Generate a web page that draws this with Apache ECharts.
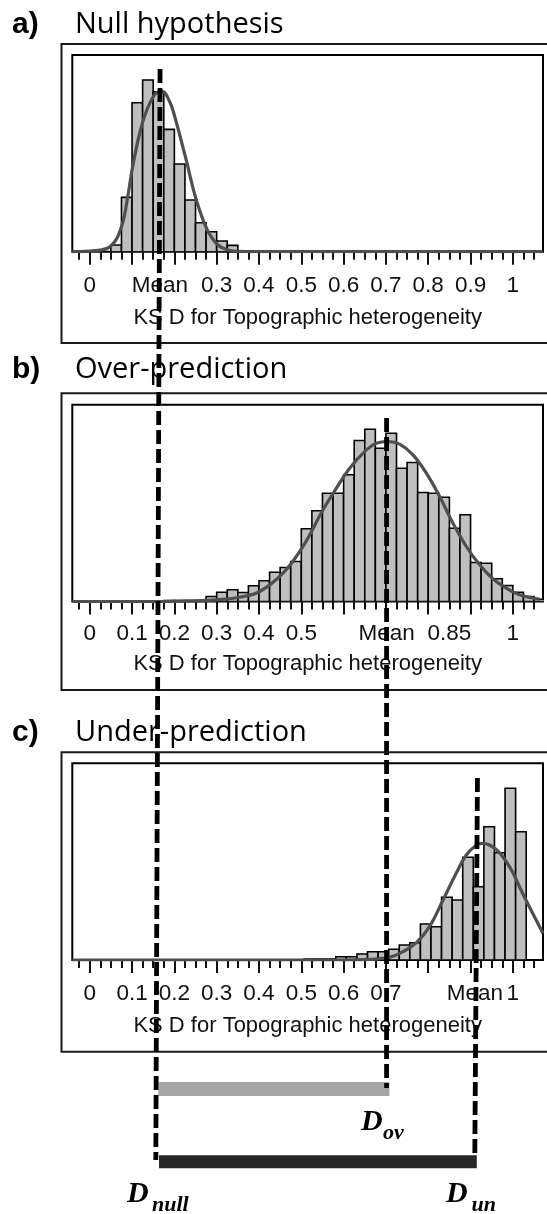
<!DOCTYPE html>
<html><head><meta charset="utf-8">
<script src="https://cdn.jsdelivr.net/npm/echarts@6/dist/echarts.min.js"></script>
<style>html,body{margin:0;padding:0;background:#fff}#c{width:547px;height:1214px}</style>
</head><body><div id="c"></div>
<script>
// ================= DATA =================
const binWidth = 0.025;

// a) Null hypothesis histogram (bin left edges, frequency)
const nullBinStarts = [0.05,0.075,0.1,0.125,0.15,0.175,0.2,0.225,0.25,0.275,0.3,0.325,0.35,0.375,0.4,0.425];
const nullFreq      = [6.7,54.3,149,171.7,160,122.3,87.7,51.7,29,20,10.7,6.3,1,1,1,1];
const nullCurveX = [-0.041,0.012,0.05,0.075,0.091,0.1,0.124,0.15,0.17,0.189,0.201,0.226,0.252,0.278,0.303,0.327,0.35,0.45,1.071];
const nullCurveY = [0,1,5.7,25,58,81.7,128,155,160.7,150,135,95,51.7,21.7,6.7,1.7,0.3,0,0];

// b) Over-prediction histogram
const overBinStarts = [0.175,0.2,0.225,0.25,0.275,0.3,0.325,0.35,0.375,0.4,0.425,0.45,0.475,0.5,0.525,0.55,0.575,0.6,0.625,0.65,0.675,0.7,0.725,0.75,0.775,0.8,0.825,0.85,0.875,0.9,0.925,0.95,0.975,1.0,1.025,1.05];
const overFreq      = [1,1,1,1,5,9.3,11.7,9,15.7,20.7,29.3,34,40,72.7,90.7,108.3,108.3,126.7,161,172.3,153.3,168.3,133.3,139,109,108.3,104.3,73.3,86.7,39,38.3,22.7,16,9.3,5,2.3];
const overCurveX = [-0.041,0.15,0.252,0.2995,0.3545,0.4018,0.4568,0.504,0.5513,0.5829,0.6143,0.6538,0.6774,0.7048,0.7324,0.7638,0.7955,0.8269,0.8583,0.8899,0.9214,0.9528,0.9844,1.0158,1.063];
const overCurveY = [0,0,0.7,1.7,4.3,10,28.3,55,91.7,113.3,133.3,151.7,158.3,160,157.3,146.7,128.3,105,78.3,55,36.7,22.7,13.3,6.7,2.3];

// c) Under-prediction histogram (bin edges as placed in the picture)
const underBinStarts = [0.5065,0.5315,0.5565,0.5815,0.6065,0.6315,0.6565,0.6815,0.7065,0.7315,0.7565,0.7815,0.8065,0.8315,0.8565,0.8815,0.9065,0.9315,0.9565,0.9815,1.0065];
const underFreq      = [1,1,1,3.3,3.3,6,8.3,8.3,10.7,15,17.3,36,33.3,62.7,60,102.7,73.3,133.3,107.3,171.7,128.3];
const underCurveX = [-0.041,0.6,0.661,0.709,0.74,0.772,0.803,0.835,0.866,0.89,0.914,0.928,0.96,0.992,1.023,1.055,1.071];
const underCurveY = [0,0,0.7,2.7,8.3,17.3,33.3,60,86.7,105,115,116.7,110.7,93.3,66.7,40,26.7];

// means (D values)
const meanNull = 0.166, meanOver = 0.7015, meanUnder = 0.91;

// tick labels
const labelPosA  = [0, meanNull, 0.3, 0.4, 0.5, 0.6, 0.7, 0.8, 0.9, 1];
const labelTextA = ['0','Mean','0.3','0.4','0.5','0.6','0.7','0.8','0.9','1'];
const labelPosB  = [0, 0.1, 0.2, 0.3, 0.4, 0.5, meanOver, 0.85, 1];
const labelTextB = ['0','0.1','0.2','0.3','0.4','0.5','Mean','0.85','1'];
const labelPosC  = [0, 0.1, 0.2, 0.3, 0.4, 0.5, 0.6, 0.7, meanUnder, 1];
const labelTextC = ['0','0.1','0.2','0.3','0.4','0.5','0.6','0.7','Mean','1'];
const majorTicks = [0,0.1,0.2,0.3,0.4,0.5,0.6,0.7,0.8,0.9,1];
const axisTitle = 'KS D for Topographic heterogeneity';
const panelTitles = [['a)','Null hypothesis'],['b)','Over-prediction'],['c)','Under-prediction']];

// connector lines (x in data units, y in page rows of the overlay axis)
const nullLine  = [[0.1662, 69], [0.1562, 1160]];
const overLine  = [[meanOver, 418], [meanOver, 1088]];
const underLine = [[0.9163, 778], [0.910, 1157]];
const ovBar = [[0.1621, 1089], [0.7081, 1089]];
const unBar = [[0.1638, 1161.7], [0.9147, 1161.7]];

// ================= LAYOUT =================
const X_MIN = -0.0412, X_MAX = 1.0712, Y_MAX = 196.7;
const GL = 72.3, GR = 4;
const panels = [
  {top: 55,    box: [61.5, 44, 343],   title: 24.5, margin: 22.5, gap: 55, pos: labelPosA, txt: labelTextA,
   starts: nullBinStarts, freq: nullFreq, cx: nullCurveX, cy: nullCurveY},
  {top: 404.8, box: [61.5, 393.3, 690], title: 370,  margin: 20.5, gap: 51, pos: labelPosB, txt: labelTextB,
   starts: overBinStarts, freq: overFreq, cx: overCurveX, cy: overCurveY},
  {top: 763.3, box: [61.5, 752.3, 1051.7], title: 733, margin: 22, gap: 54.5, pos: labelPosC, txt: labelTextC,
   starts: underBinStarts, freq: underFreq, cx: underCurveX, cy: underCurveY}
];
const minorTicks = [];
for (let k = -1; k <= 42; k++) minorTicks.push(Math.round(k * 25) / 1000);

const grids = [], xAxes = [], yAxes = [], series = [], graphics = [];
panels.forEach((p, i) => {
  grids.push({left: GL, right: GR, top: p.top, height: Y_MAX, show: true, borderColor: '#000', borderWidth: 2});
  xAxes.push({
    gridIndex: i, type: 'value', min: X_MIN, max: X_MAX, position: 'bottom',
    axisLine: {show: false}, splitLine: {show: false},
    axisTick: {show: true, customValues: majorTicks, length: 13, lineStyle: {color: '#111', width: 2}},
    axisLabel: {show: true, customValues: p.pos, margin: p.margin, color: '#111',
      fontFamily: 'Liberation Sans', fontSize: 22.5,
      formatter: (v) => { let bi = 0, bd = 1e9; p.pos.forEach((q, j) => { const d = Math.abs(q - v); if (d < bd) { bd = d; bi = j; } }); return p.txt[bi]; }},
    name: axisTitle, nameLocation: 'middle', nameGap: p.gap,
    nameTextStyle: {fontFamily: 'Liberation Sans', fontSize: 22, color: '#111'}
  });
  xAxes.push({
    gridIndex: i, type: 'value', min: X_MIN, max: X_MAX, position: 'bottom', offset: 0,
    axisLine: {show: false}, splitLine: {show: false}, axisLabel: {show: false},
    axisTick: {show: true, customValues: minorTicks, length: 8, lineStyle: {color: '#111', width: 2}}
  });
  yAxes.push({gridIndex: i, type: 'value', min: 0, max: Y_MAX, show: false});
  series.push({
    type: 'custom', xAxisIndex: 2 * i, yAxisIndex: i, clip: true, z: 3,
    data: p.starts.map((s, j) => [s, p.freq[j]]),
    renderItem: (params, api) => {
      const x0 = api.value(0), h = api.value(1);
      const a = api.coord([x0, 0]), b = api.coord([x0 + binWidth, h]);
      return {type: 'rect', shape: {x: a[0], y: b[1], width: b[0] - a[0], height: a[1] - b[1]},
        style: {fill: '#bfbfbf', stroke: '#000', lineWidth: 1.6}};
    }
  });
  series.push({
    type: 'line', xAxisIndex: 2 * i, yAxisIndex: i, smooth: 0.4, symbol: 'none', clip: true, z: 4,
    data: p.cx.map((x, j) => [x, p.cy[j]]),
    lineStyle: {color: '#4f4f4f', width: 3.2}
  });
  graphics.push({type: 'rect', z: 1, shape: {x: p.box[0], y: p.box[1], width: 600, height: p.box[2] - p.box[1]},
    style: {fill: 'none', stroke: '#1a1a1a', lineWidth: 2}});
  graphics.push({type: 'text', z: 5, x: 12, y: p.title, style: {text: panelTitles[i][0], font: 'bold 30px "Liberation Sans"', fill: '#000', textVerticalAlign: 'middle'}});
  graphics.push({type: 'text', z: 5, x: 75, y: p.title, style: {text: panelTitles[i][1], font: '29px "Open Sans"', fill: '#000', textVerticalAlign: 'middle'}});
});

// overlay grid covering the whole page for the connector lines
grids.push({left: GL, right: GR, top: 0, height: 1214, show: false});
xAxes.push({gridIndex: 3, type: 'value', min: X_MIN, max: X_MAX, show: false});
yAxes.push({gridIndex: 3, type: 'value', min: 0, max: 1214, inverse: true, show: false});
const dash = {color: '#000', width: 4.8, type: [14, 5], cap: 'butt'};
[nullLine, overLine, underLine].forEach(l => series.push({
  type: 'line', xAxisIndex: 6, yAxisIndex: 3, symbol: 'none', clip: false, z: 10, data: l, lineStyle: dash
}));
series.push({type: 'line', xAxisIndex: 6, yAxisIndex: 3, symbol: 'none', clip: false, z: 9, data: ovBar,
  lineStyle: {color: '#a6a6a6', width: 14, cap: 'butt'}});
series.push({type: 'line', xAxisIndex: 6, yAxisIndex: 3, symbol: 'none', clip: false, z: 9, data: unBar,
  lineStyle: {color: '#262626', width: 13, cap: 'butt'}});

// D labels
const serifD = 'italic bold 30px "Liberation Serif"', serifS = 'italic bold 22px "Liberation Serif"';
[[127, 1194.5, 152, 1205, 'null'], [361, 1122.5, 383, 1133.5, 'ov'], [446, 1194.5, 471.5, 1205, 'un']].forEach(d => {
  graphics.push({type: 'text', z: 12, x: d[0], y: d[1], style: {text: 'D', font: serifD, fill: '#000', textVerticalAlign: 'middle'}});
  graphics.push({type: 'text', z: 12, x: d[2], y: d[3], style: {text: d[4], font: serifS, fill: '#000', textVerticalAlign: 'middle'}});
});

const chart = echarts.init(document.getElementById('c'), null, {renderer: 'canvas'});
chart.setOption({
  animation: false, backgroundColor: '#fff',
  grid: grids, xAxis: xAxes, yAxis: yAxes, series: series, graphic: graphics
});
</script></body></html>
